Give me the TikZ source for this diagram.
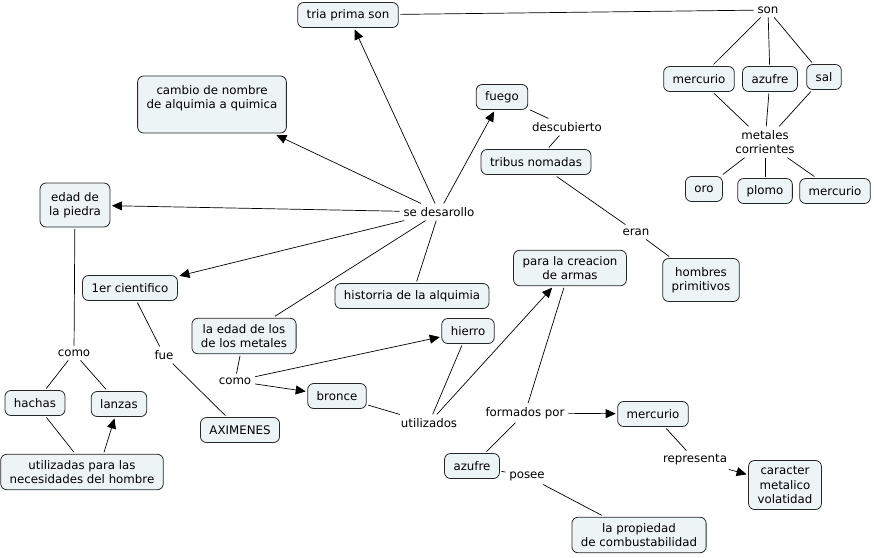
\documentclass[tikz,border=0pt]{standalone}
\usepackage{fontspec}
\setmainfont{DejaVu Sans}
\usetikzlibrary{arrows.meta}
\definecolor{fondo}{RGB}{237,244,246}
\tikzset{
	concepto/.style={draw=black!85, line width=0.8pt, fill=fondo, rounded corners=6pt, align=center,
		inner xsep=9pt, inner ysep=6pt, minimum height=25pt, outer sep=2pt,
		font=\fontsize{11.8}{14.3}\selectfont},
	frase/.style={align=center, inner sep=1pt, outer sep=3pt, font=\fontsize{11.8}{14.3}\selectfont},
	flecha/.style={-{Triangle[length=10pt,width=9pt]}}
}

\begin{document}
\begin{tikzpicture}[x=1pt, y=-1pt, line width=0.7pt]
		%%%%% START %%%%%
		\useasboundingbox (0, 0) rectangle (874, 557);
		
		\node[concepto] (tria) at (348, 15) {tria prima son};
		\node[concepto, minimum height=57pt] (cambio) at (212, 104.5) {cambio de nombre\\de alquimia a quimica\\\mbox{}};
		\node[concepto, minimum height=44pt] (piedra) at (75, 205) {edad de\\la piedra};
		\node[concepto] (cientifico) at (130, 288) {1er cientifico};
		\node[concepto] (metales) at (244, 336) {la edad de los\\de los metales};
		\node[concepto] (historia) at (412, 296) {historria de la alquimia};
		\node[concepto] (fuego) at (502, 97) {fuego};
		\node[concepto] (tribus) at (536, 162) {tribus nomadas};
		\node[concepto, minimum height=43pt] (hombres) at (701, 280) {hombres\\primitivos};
		\node[concepto] (armas) at (570, 268) {para la creacion\\de armas};
		\node[concepto] (hierro) at (468, 331) {hierro};
		\node[concepto] (bronce) at (337, 396) {bronce};
		\node[concepto] (aximenes) at (240, 430) {AXIMENES};
		\node[concepto] (hachas) at (35, 403) {hachas};
		\node[concepto] (lanzas) at (119, 404) {lanzas};
		\node[concepto] (necesidades) at (82, 472) {utilizadas para las\\necesidades del hombre};
		
		\node[concepto] (mercurioA) at (699, 79) {mercurio};
		\node[concepto] (azufreA) at (770, 79) {azufre};
		\node[concepto] (sal) at (824, 77) {sal};
		\node[concepto] (oro) at (704, 189) {oro};
		\node[concepto] (plomo) at (765, 191) {plomo};
		\node[concepto] (mercurioB) at (835, 191) {mercurio};
		
		\node[concepto] (mercurioC) at (653, 414) {mercurio};
		\node[concepto] (azufreB) at (472, 466) {azufre};
		\node[concepto] (caracter) at (785, 485) {caracter\\metalico\\volatidad};
		\node[concepto] (propiedad) at (639, 535) {la propiedad\\de combustabilidad};
		
		\node[frase] (son) at (768, 10) {son};
		\node[frase] (corrientes) at (765, 142) {metales\\corrientes};
		\node[frase] (descubierto) at (567, 127) {descubierto};
		\node[frase] (eran) at (636, 232) {eran};
		\node[frase] (desarollo) at (439, 212) {se desarollo};
		\node[frase] (comoA) at (74, 353) {como};
		\node[frase] (fue) at (164, 355) {fue};
		\node[frase] (comoB) at (235, 381) {como};
		\node[frase] (utilizados) at (429, 423) {utilizados};
		\node[frase] (formados) at (525, 413) {formados por};
		\node[frase] (representa) at (695, 460) {representa};
		\node[frase] (posee) at (527, 476) {posee};
		
		\draw (tria) -- (son);
		\draw (son) -- (mercurioA);
		\draw (son) -- (azufreA);
		\draw (son) -- (sal);
		\draw (mercurioA) -- (corrientes);
		\draw (azufreA) -- (corrientes);
		\draw (sal) -- (corrientes);
		\draw (corrientes) -- (oro);
		\draw (corrientes) -- (plomo);
		\draw (corrientes) -- (mercurioB);
		
		\draw (fuego) -- (descubierto);
		\draw (descubierto) -- (tribus);
		\draw (tribus) -- (eran);
		\draw (eran) -- (hombres);
		
		\draw[flecha] (desarollo) -- (tria);
		\draw[flecha] (desarollo) -- (cambio);
		\draw[flecha] (desarollo) -- (piedra);
		\draw[flecha] (desarollo) -- (cientifico);
		\draw[flecha] (desarollo) -- (fuego);
		\draw (metales) -- (desarollo);
		\draw (historia) -- (desarollo);
		
		\draw (piedra) -- (comoA);
		\draw (comoA) -- (hachas);
		\draw (comoA) -- (lanzas);
		\draw (hachas) -- ([xshift=-8pt]necesidades.north);
		\draw[flecha] ([xshift=22pt]necesidades.north) -- (lanzas);
		
		\draw (cientifico) -- (fue);
		\draw (fue) -- (aximenes);
		
		\draw (metales) -- (comoB);
		\draw[flecha] (comoB) -- (hierro);
		\draw[flecha] (comoB) -- (bronce);
		\draw (bronce) -- (utilizados);
		\draw (hierro) -- (utilizados);
		\draw[flecha] (utilizados) -- (armas);
		
		\draw (armas) -- (formados);
		\draw[flecha] (formados) -- (mercurioC);
		\draw (azufreB) -- (formados);
		\draw (mercurioC) -- (representa);
		\draw[flecha] (representa) -- (caracter);
		\draw (azufreB) -- (posee);
		\draw (posee) -- (propiedad);
		
		%%%%% END %%%%%
	\end{tikzpicture}
\end{document}
